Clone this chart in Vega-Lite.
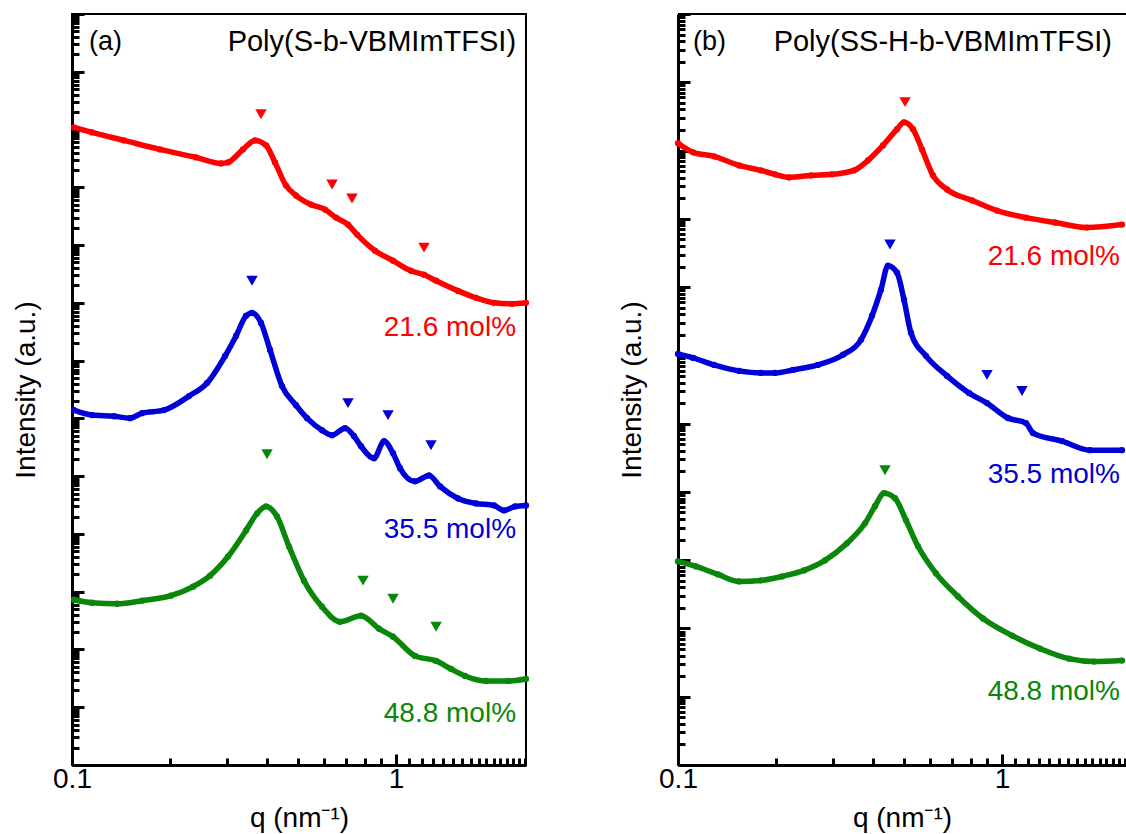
{
  "$schema": "https://vega.github.io/schema/vega-lite/v6.json",
  "padding": {"left": 11, "top": 11, "right": 0, "bottom": 0},
  "spacing": 80,
  "config": {
    "font": "Liberation Sans",
    "view": {"stroke": "black", "strokeWidth": 2},
    "axis": {
      "grid": false,
      "domainColor": "black",
      "domainWidth": 3,
      "tickColor": "black",
      "tickWidth": 3,
      "labelFont": "Liberation Sans",
      "labelFontSize": 28,
      "labelColor": "black",
      "titleFont": "Liberation Sans",
      "titleFontSize": 28,
      "titleFontWeight": "normal",
      "titleColor": "black"
    }
  },
  "datasets": {
    "curves": [
      {"panel": "a", "series": "21.6", "q": 0.1014, "I": 1.09e11},
      {"panel": "a", "series": "21.6", "q": 0.1153, "I": 8.93e10},
      {"panel": "a", "series": "21.6", "q": 0.1447, "I": 6.49e10},
      {"panel": "a", "series": "21.6", "q": 0.1868, "I": 4.53e10},
      {"panel": "a", "series": "21.6", "q": 0.2414, "I": 3.29e10},
      {"panel": "a", "series": "21.6", "q": 0.2884, "I": 2.59e10},
      {"panel": "a", "series": "21.6", "q": 0.3030, "I": 2.70e10},
      {"panel": "a", "series": "21.6", "q": 0.3371, "I": 4.53e10},
      {"panel": "a", "series": "21.6", "q": 0.3671, "I": 6.49e10},
      {"panel": "a", "series": "21.6", "q": 0.3971, "I": 5.32e10},
      {"panel": "a", "series": "21.6", "q": 0.4231, "I": 2.70e10},
      {"panel": "a", "series": "21.6", "q": 0.4576, "I": 1.07e10},
      {"panel": "a", "series": "21.6", "q": 0.4913, "I": 7.21e9},
      {"panel": "a", "series": "21.6", "q": 0.5467, "I": 5.03e9},
      {"panel": "a", "series": "21.6", "q": 0.6038, "I": 4.12e9},
      {"panel": "a", "series": "21.6", "q": 0.6528, "I": 2.99e9},
      {"panel": "a", "series": "21.6", "q": 0.7109, "I": 2.26e9},
      {"panel": "a", "series": "21.6", "q": 0.7583, "I": 1.52e9},
      {"panel": "a", "series": "21.6", "q": 0.8613, "I": 8.00e8},
      {"panel": "a", "series": "21.6", "q": 0.9788, "I": 5.36e8},
      {"panel": "a", "series": "21.6", "q": 1.112, "I": 3.59e8},
      {"panel": "a", "series": "21.6", "q": 1.220, "I": 3.06e8},
      {"panel": "a", "series": "21.6", "q": 1.329, "I": 2.41e8},
      {"panel": "a", "series": "21.6", "q": 1.554, "I": 1.61e8},
      {"panel": "a", "series": "21.6", "q": 1.766, "I": 1.22e8},
      {"panel": "a", "series": "21.6", "q": 2.007, "I": 1.00e8},
      {"panel": "a", "series": "21.6", "q": 2.280, "I": 9.61e7},
      {"panel": "a", "series": "21.6", "q": 2.518, "I": 1.00e8},

      {"panel": "a", "series": "35.5", "q": 0.1014, "I": 1.39e6},
      {"panel": "a", "series": "35.5", "q": 0.1153, "I": 1.14e6},
      {"panel": "a", "series": "35.5", "q": 0.1348, "I": 1.09e6},
      {"panel": "a", "series": "35.5", "q": 0.1510, "I": 1.01e6},
      {"panel": "a", "series": "35.5", "q": 0.1644, "I": 1.23e6},
      {"panel": "a", "series": "35.5", "q": 0.1923, "I": 1.39e6},
      {"panel": "a", "series": "35.5", "q": 0.2297, "I": 2.43e6},
      {"panel": "a", "series": "35.5", "q": 0.2610, "I": 4.08e6},
      {"panel": "a", "series": "35.5", "q": 0.2967, "I": 1.20e7},
      {"panel": "a", "series": "35.5", "q": 0.3208, "I": 2.67e7},
      {"panel": "a", "series": "35.5", "q": 0.3444, "I": 5.95e7},
      {"panel": "a", "series": "35.5", "q": 0.3593, "I": 6.70e7},
      {"panel": "a", "series": "35.5", "q": 0.3831, "I": 4.50e7},
      {"panel": "a", "series": "35.5", "q": 0.4084, "I": 1.53e7},
      {"panel": "a", "series": "35.5", "q": 0.4447, "I": 3.62e6},
      {"panel": "a", "series": "35.5", "q": 0.4913, "I": 1.69e6},
      {"panel": "a", "series": "35.5", "q": 0.5313, "I": 1.01e6},
      {"panel": "a", "series": "35.5", "q": 0.5909, "I": 6.24e5},
      {"panel": "a", "series": "35.5", "q": 0.6347, "I": 5.11e5},
      {"panel": "a", "series": "35.5", "q": 0.6960, "I": 6.76e5},
      {"panel": "a", "series": "35.5", "q": 0.7421, "I": 4.91e5},
      {"panel": "a", "series": "35.5", "q": 0.7799, "I": 3.29e5},
      {"panel": "a", "series": "35.5", "q": 0.8551, "I": 2.04e5},
      {"panel": "a", "series": "35.5", "q": 0.9184, "I": 4.02e5},
      {"panel": "a", "series": "35.5", "q": 0.9788, "I": 2.49e5},
      {"panel": "a", "series": "35.5", "q": 1.029, "I": 1.37e5},
      {"panel": "a", "series": "35.5", "q": 1.144, "I": 8.13e4},
      {"panel": "a", "series": "35.5", "q": 1.264, "I": 1.03e5},
      {"panel": "a", "series": "35.5", "q": 1.367, "I": 6.65e4},
      {"panel": "a", "series": "35.5", "q": 1.554, "I": 4.12e4},
      {"panel": "a", "series": "35.5", "q": 1.766, "I": 3.37e4},
      {"panel": "a", "series": "35.5", "q": 2.007, "I": 3.11e4},
      {"panel": "a", "series": "35.5", "q": 2.154, "I": 2.55e4},
      {"panel": "a", "series": "35.5", "q": 2.329, "I": 2.99e4},
      {"panel": "a", "series": "35.5", "q": 2.518, "I": 3.11e4},

      {"panel": "a", "series": "48.8", "q": 0.1014, "I": 726},
      {"panel": "a", "series": "48.8", "q": 0.1153, "I": 644},
      {"panel": "a", "series": "48.8", "q": 0.1377, "I": 619},
      {"panel": "a", "series": "48.8", "q": 0.1644, "I": 698},
      {"panel": "a", "series": "48.8", "q": 0.2020, "I": 853},
      {"panel": "a", "series": "48.8", "q": 0.2363, "I": 1222},
      {"panel": "a", "series": "48.8", "q": 0.2667, "I": 1897},
      {"panel": "a", "series": "48.8", "q": 0.3030, "I": 4055},
      {"panel": "a", "series": "48.8", "q": 0.3444, "I": 11500},
      {"panel": "a", "series": "48.8", "q": 0.3724, "I": 22600},
      {"panel": "a", "series": "48.8", "q": 0.3971, "I": 29900},
      {"panel": "a", "series": "48.8", "q": 0.4292, "I": 20000},
      {"panel": "a", "series": "48.8", "q": 0.4675, "I": 6040},
      {"panel": "a", "series": "48.8", "q": 0.5200, "I": 1552},
      {"panel": "a", "series": "48.8", "q": 0.5909, "I": 550},
      {"panel": "a", "series": "48.8", "q": 0.6717, "I": 301},
      {"panel": "a", "series": "48.8", "q": 0.7799, "I": 383},
      {"panel": "a", "series": "48.8", "q": 0.8862, "I": 228},
      {"panel": "a", "series": "48.8", "q": 0.9788, "I": 166},
      {"panel": "a", "series": "48.8", "q": 1.144, "I": 77.4},
      {"panel": "a", "series": "48.8", "q": 1.329, "I": 63.4},
      {"panel": "a", "series": "48.8", "q": 1.478, "I": 46.0},
      {"panel": "a", "series": "48.8", "q": 1.633, "I": 34.8},
      {"panel": "a", "series": "48.8", "q": 1.896, "I": 28.5},
      {"panel": "a", "series": "48.8", "q": 2.217, "I": 28.5},
      {"panel": "a", "series": "48.8", "q": 2.518, "I": 30.9},

      {"panel": "b", "series": "21.6", "q": 0.1000, "I": 1.28e9},
      {"panel": "b", "series": "21.6", "q": 0.1113, "I": 9.42e8},
      {"panel": "b", "series": "21.6", "q": 0.1292, "I": 8.22e8},
      {"panel": "b", "series": "21.6", "q": 0.1543, "I": 6.06e8},
      {"panel": "b", "series": "21.6", "q": 0.1804, "I": 5.12e8},
      {"panel": "b", "series": "21.6", "q": 0.1993, "I": 4.48e8},
      {"panel": "b", "series": "21.6", "q": 0.2202, "I": 4.04e8},
      {"panel": "b", "series": "21.6", "q": 0.2573, "I": 4.32e8},
      {"panel": "b", "series": "21.6", "q": 0.2988, "I": 4.48e8},
      {"panel": "b", "series": "21.6", "q": 0.3493, "I": 5.12e8},
      {"panel": "b", "series": "21.6", "q": 0.3859, "I": 7.18e8},
      {"panel": "b", "series": "21.6", "q": 0.4292, "I": 1.19e9},
      {"panel": "b", "series": "21.6", "q": 0.4741, "I": 2.05e9},
      {"panel": "b", "series": "21.6", "q": 0.4983, "I": 2.59e9},
      {"panel": "b", "series": "21.6", "q": 0.5313, "I": 2.05e9},
      {"panel": "b", "series": "21.6", "q": 0.5664, "I": 1.04e9},
      {"panel": "b", "series": "21.6", "q": 0.6124, "I": 4.32e8},
      {"panel": "b", "series": "21.6", "q": 0.6766, "I": 2.69e8},
      {"panel": "b", "series": "21.6", "q": 0.8082, "I": 1.86e8},
      {"panel": "b", "series": "21.6", "q": 0.9651, "I": 1.32e8},
      {"panel": "b", "series": "21.6", "q": 1.186, "I": 1.04e8},
      {"panel": "b", "series": "21.6", "q": 1.457, "I": 8.83e7},
      {"panel": "b", "series": "21.6", "q": 1.829, "I": 7.45e7},
      {"panel": "b", "series": "21.6", "q": 2.346, "I": 8.24e7},

      {"panel": "b", "series": "35.5", "q": 0.1000, "I": 1.05e6},
      {"panel": "b", "series": "35.5", "q": 0.1113, "I": 9.18e5},
      {"panel": "b", "series": "35.5", "q": 0.1292, "I": 7.24e5},
      {"panel": "b", "series": "35.5", "q": 0.1543, "I": 5.92e5},
      {"panel": "b", "series": "35.5", "q": 0.1804, "I": 5.53e5},
      {"panel": "b", "series": "35.5", "q": 0.1993, "I": 5.53e5},
      {"panel": "b", "series": "35.5", "q": 0.2264, "I": 6.12e5},
      {"panel": "b", "series": "35.5", "q": 0.2704, "I": 7.24e5},
      {"panel": "b", "series": "35.5", "q": 0.3231, "I": 1.02e6},
      {"panel": "b", "series": "35.5", "q": 0.3671, "I": 1.69e6},
      {"panel": "b", "series": "35.5", "q": 0.3971, "I": 3.80e6},
      {"panel": "b", "series": "35.5", "q": 0.4231, "I": 9.16e6},
      {"panel": "b", "series": "35.5", "q": 0.4447, "I": 2.06e7},
      {"panel": "b", "series": "35.5", "q": 0.4741, "I": 1.63e7},
      {"panel": "b", "series": "35.5", "q": 0.4983, "I": 6.53e6},
      {"panel": "b", "series": "35.5", "q": 0.5237, "I": 2.14e6},
      {"panel": "b", "series": "35.5", "q": 0.5824, "I": 9.84e5},
      {"panel": "b", "series": "35.5", "q": 0.6766, "I": 5.00e5},
      {"panel": "b", "series": "35.5", "q": 0.7909, "I": 2.81e5},
      {"panel": "b", "series": "35.5", "q": 0.8990, "I": 2.00e5},
      {"panel": "b", "series": "35.5", "q": 1.043, "I": 1.21e5},
      {"panel": "b", "series": "35.5", "q": 1.186, "I": 1.02e5},
      {"panel": "b", "series": "35.5", "q": 1.246, "I": 7.28e4},
      {"panel": "b", "series": "35.5", "q": 1.532, "I": 5.55e4},
      {"panel": "b", "series": "35.5", "q": 1.869, "I": 4.09e4},
      {"panel": "b", "series": "35.5", "q": 2.346, "I": 4.09e4},

      {"panel": "b", "series": "48.8", "q": 0.1000, "I": 959},
      {"panel": "b", "series": "48.8", "q": 0.1136, "I": 811},
      {"panel": "b", "series": "48.8", "q": 0.1329, "I": 618},
      {"panel": "b", "series": "48.8", "q": 0.1543, "I": 489},
      {"panel": "b", "series": "48.8", "q": 0.1804, "I": 505},
      {"panel": "b", "series": "48.8", "q": 0.2094, "I": 578},
      {"panel": "b", "series": "48.8", "q": 0.2448, "I": 708},
      {"panel": "b", "series": "48.8", "q": 0.2842, "I": 993},
      {"panel": "b", "series": "48.8", "q": 0.3322, "I": 1766},
      {"panel": "b", "series": "48.8", "q": 0.3777, "I": 3467},
      {"panel": "b", "series": "48.8", "q": 0.4055, "I": 6166},
      {"panel": "b", "series": "48.8", "q": 0.4323, "I": 9572},
      {"panel": "b", "series": "48.8", "q": 0.4675, "I": 8072},
      {"panel": "b", "series": "48.8", "q": 0.5055, "I": 3837},
      {"panel": "b", "series": "48.8", "q": 0.5504, "I": 1596},
      {"panel": "b", "series": "48.8", "q": 0.6256, "I": 640},
      {"panel": "b", "series": "48.8", "q": 0.7312, "I": 294},
      {"panel": "b", "series": "48.8", "q": 0.8738, "I": 140},
      {"panel": "b", "series": "48.8", "q": 1.074, "I": 78.7},
      {"panel": "b", "series": "48.8", "q": 1.310, "I": 50.7},
      {"panel": "b", "series": "48.8", "q": 1.610, "I": 36.1},
      {"panel": "b", "series": "48.8", "q": 1.923, "I": 32.7},
      {"panel": "b", "series": "48.8", "q": 2.346, "I": 33.8}
    ],
    "markers": [
      {"panel": "a", "series": "21.6", "q": 0.3831, "I": 1.84e11},
      {"panel": "a", "series": "21.6", "q": 0.6347, "I": 1.12e10},
      {"panel": "a", "series": "21.6", "q": 0.7312, "I": 6.39e9},
      {"panel": "a", "series": "21.6", "q": 1.220, "I": 9.02e8},
      {"panel": "a", "series": "35.5", "q": 0.3593, "I": 2.41e8},
      {"panel": "a", "series": "35.5", "q": 0.7109, "I": 1.84e6},
      {"panel": "a", "series": "35.5", "q": 0.9448, "I": 1.14e6},
      {"panel": "a", "series": "35.5", "q": 1.282, "I": 3.43e5},
      {"panel": "a", "series": "48.8", "q": 0.3999, "I": 2.39e5},
      {"panel": "a", "series": "48.8", "q": 0.7909, "I": 1552},
      {"panel": "a", "series": "48.8", "q": 0.9788, "I": 755},
      {"panel": "a", "series": "48.8", "q": 1.329, "I": 247},
      {"panel": "b", "series": "21.6", "q": 0.5019, "I": 5.11e9},
      {"panel": "b", "series": "35.5", "q": 0.4511, "I": 4.20e7},
      {"panel": "b", "series": "35.5", "q": 0.8990, "I": 5.18e5},
      {"panel": "b", "series": "35.5", "q": 1.153, "I": 3.01e5},
      {"panel": "b", "series": "48.8", "q": 0.4355, "I": 2.08e4}
    ],
    "labels": [
      {"panel": "a", "series": "21.6", "text": "21.6 mol%", "q": 2.346, "I": 3.68e7},
      {"panel": "a", "series": "35.5", "text": "35.5 mol%", "q": 2.346, "I": 1.15e4},
      {"panel": "a", "series": "48.8", "text": "48.8 mol%", "q": 2.346, "I": 7.62},
      {"panel": "b", "series": "21.6", "text": "21.6 mol%", "q": 2.313, "I": 2.79e7},
      {"panel": "b", "series": "35.5", "text": "35.5 mol%", "q": 2.313, "I": 1.76e4},
      {"panel": "b", "series": "48.8", "text": "48.8 mol%", "q": 2.313, "I": 11.8}
    ]
  },
  "hconcat": [
    {
      "width": 454,
      "height": 751,
      "layer": [
        {
          "data": {"name": "curves"},
          "transform": [{"filter": "datum.panel == 'a'"}],
          "mark": {"type": "line", "strokeWidth": 5.5, "interpolate": "monotone"},
          "encoding": {
            "x": {"field": "q", "type": "quantitative", "scale": {"type": "log", "domain": [0.1, 2.518], "nice": false},
              "axis": {"title": "q (nm⁻¹)", "tickCount": 30, "labelExpr": "abs(log(datum.value)/LN10 - round(log(datum.value)/LN10)) < 0.001 ? format(datum.value, '~g') : ''",
                "tickSize": {"condition": {"test": "abs(log(datum.value)/LN10 - round(log(datum.value)/LN10)) < 0.001", "value": -11}, "value": -7},
                "labelFontSize": 28, "titleFontSize": 28,
                "labelPadding": 11, "labelOverlap": false, "labelFlush": false, "titlePadding": 7}},
            "y": {"field": "I", "type": "quantitative", "scale": {"type": "log", "domain": [1, 1e13], "nice": false},
              "axis": {"title": "Intensity (a.u.)", "labels": false, "tickCount": 200, "titleFontSize": 28,
                "tickSize": {"condition": {"test": "abs(log(datum.value)/LN10 - round(log(datum.value)/LN10)) < 0.001", "value": -12}, "value": -7},
                "titlePadding": 30}},
            "color": {"field": "series", "type": "nominal", "scale": {"domain": ["21.6", "35.5", "48.8"], "range": ["#ff0000", "#0000d8", "#0a860a"]}, "legend": null},
            "detail": {"field": "series"}
          }
        },
        {
          "data": {"name": "curves"},
          "transform": [{"filter": "datum.panel == 'a'"}],
          "mark": {"type": "point", "filled": true, "size": 40, "opacity": 1},
          "encoding": {
            "x": {"field": "q", "type": "quantitative"},
            "y": {"field": "I", "type": "quantitative"},
            "color": {"field": "series", "type": "nominal", "legend": null}
          }
        },
        {
          "data": {"name": "markers"},
          "transform": [{"filter": "datum.panel == 'a'"}],
          "mark": {"type": "point", "shape": "triangle-down", "filled": true, "size": 130, "opacity": 1},
          "encoding": {
            "x": {"field": "q", "type": "quantitative"},
            "y": {"field": "I", "type": "quantitative"},
            "color": {"field": "series", "type": "nominal", "legend": null}
          }
        },
        {
          "data": {"name": "labels"},
          "transform": [{"filter": "datum.panel == 'a'"}],
          "mark": {"type": "text", "align": "right", "baseline": "middle", "fontSize": 28, "font": "Liberation Sans"},
          "encoding": {
            "x": {"field": "q", "type": "quantitative"},
            "y": {"field": "I", "type": "quantitative"},
            "text": {"field": "text"},
            "color": {"field": "series", "type": "nominal", "legend": null}
          }
        },
        {
          "data": {"values": [{}]},
          "mark": {"type": "text", "text": "(a)", "align": "left", "baseline": "middle", "fontSize": 27, "color": "black"},
          "encoding": {"x": {"datum": 0.1128, "type": "quantitative"}, "y": {"datum": 3.27e12, "type": "quantitative"}}
        },
        {
          "data": {"values": [{}]},
          "mark": {"type": "text", "text": "Poly(S-b-VBMImTFSI)", "align": "right", "baseline": "middle", "fontSize": 29, "color": "black"},
          "encoding": {"x": {"datum": 2.346, "type": "quantitative"}, "y": {"datum": 3.27e12, "type": "quantitative"}}
        }
      ]
    },
    {
      "width": 448,
      "height": 751,
      "view": {"stroke": null},
      "layer": [
        {
          "data": {"name": "curves"},
          "transform": [{"filter": "datum.panel == 'b'"}],
          "mark": {"type": "line", "strokeWidth": 5.5, "interpolate": "monotone"},
          "encoding": {
            "x": {"field": "q", "type": "quantitative", "scale": {"type": "log", "domain": [0.1, 2.414], "nice": false},
              "axis": {"title": "q (nm⁻¹)", "tickCount": 30, "labelExpr": "abs(log(datum.value)/LN10 - round(log(datum.value)/LN10)) < 0.001 ? format(datum.value, '~g') : ''",
                "tickSize": {"condition": {"test": "abs(log(datum.value)/LN10 - round(log(datum.value)/LN10)) < 0.001", "value": -11}, "value": -7},
                "labelFontSize": 28, "titleFontSize": 28,
                "labelPadding": 11, "labelOverlap": false, "labelFlush": false, "titlePadding": 7}},
            "y": {"field": "I", "type": "quantitative", "scale": {"type": "log", "domain": [1, 1e11], "nice": false},
              "axis": {"title": "Intensity (a.u.)", "labels": false, "tickCount": 200, "titleFontSize": 28,
                "tickSize": {"condition": {"test": "abs(log(datum.value)/LN10 - round(log(datum.value)/LN10)) < 0.001", "value": -12}, "value": -7},
                "titlePadding": 30}},
            "color": {"field": "series", "type": "nominal", "scale": {"domain": ["21.6", "35.5", "48.8"], "range": ["#ff0000", "#0000d8", "#0a860a"]}, "legend": null},
            "detail": {"field": "series"}
          }
        },
        {
          "data": {"name": "curves"},
          "transform": [{"filter": "datum.panel == 'b'"}],
          "mark": {"type": "point", "filled": true, "size": 40, "opacity": 1},
          "encoding": {
            "x": {"field": "q", "type": "quantitative"},
            "y": {"field": "I", "type": "quantitative"},
            "color": {"field": "series", "type": "nominal", "legend": null}
          }
        },
        {
          "data": {"name": "markers"},
          "transform": [{"filter": "datum.panel == 'b'"}],
          "mark": {"type": "point", "shape": "triangle-down", "filled": true, "size": 130, "opacity": 1},
          "encoding": {
            "x": {"field": "q", "type": "quantitative"},
            "y": {"field": "I", "type": "quantitative"},
            "color": {"field": "series", "type": "nominal", "legend": null}
          }
        },
        {
          "data": {"name": "labels"},
          "transform": [{"filter": "datum.panel == 'b'"}],
          "mark": {"type": "text", "align": "right", "baseline": "middle", "fontSize": 28, "font": "Liberation Sans"},
          "encoding": {
            "x": {"field": "q", "type": "quantitative"},
            "y": {"field": "I", "type": "quantitative"},
            "text": {"field": "text"},
            "color": {"field": "series", "type": "nominal", "legend": null}
          }
        },
        {
          "data": {"values": [{}]},
          "mark": {"type": "rule", "color": "black", "strokeWidth": 2},
          "encoding": {"y": {"datum": 1e11, "type": "quantitative"}}
        },
        {
          "data": {"values": [{}]},
          "mark": {"type": "text", "text": "(b)", "align": "left", "baseline": "middle", "fontSize": 27, "color": "black"},
          "encoding": {"x": {"datum": 0.1113, "type": "quantitative"}, "y": {"datum": 3.88e10, "type": "quantitative"}}
        },
        {
          "data": {"values": [{}]},
          "mark": {"type": "text", "text": "Poly(SS-H-b-VBMImTFSI)", "align": "right", "baseline": "middle", "fontSize": 29, "color": "black"},
          "encoding": {"x": {"datum": 2.185, "type": "quantitative"}, "y": {"datum": 3.88e10, "type": "quantitative"}}
        }
      ]
    }
  ]
}
